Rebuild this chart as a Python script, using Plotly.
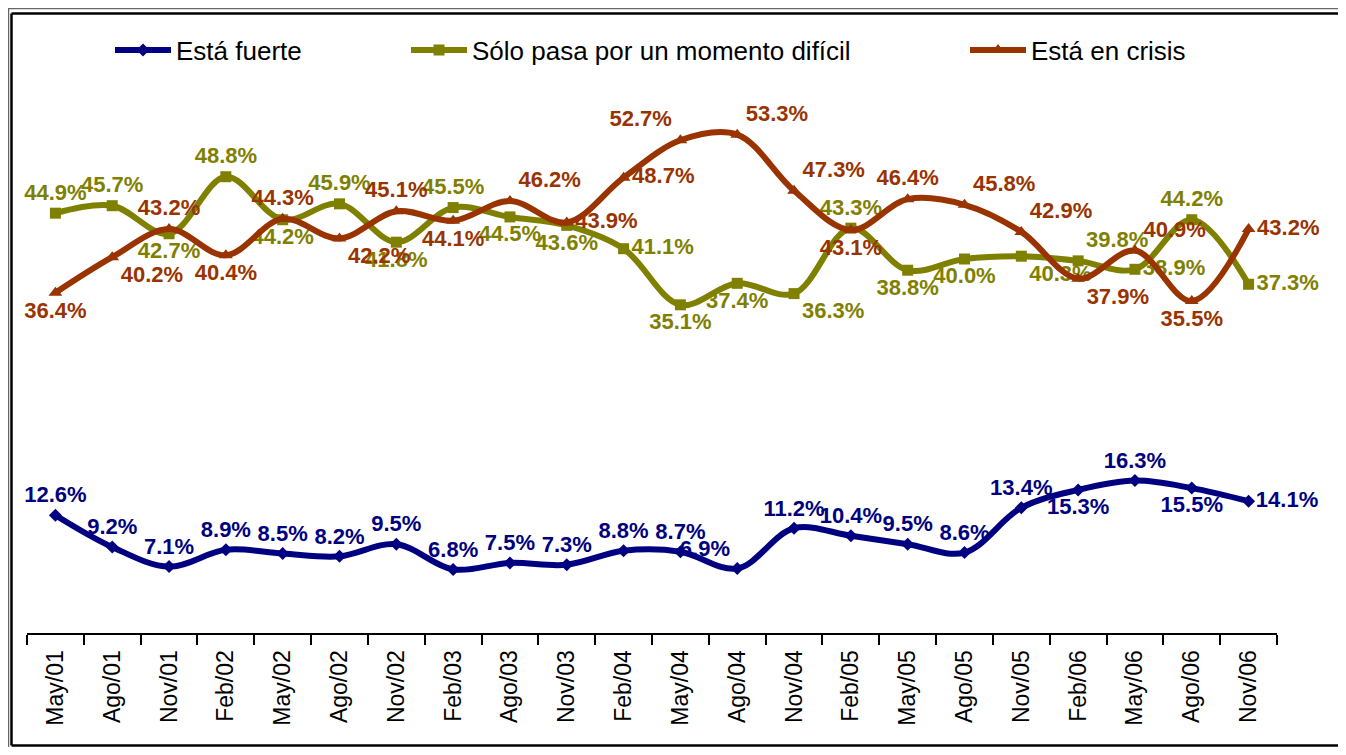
import plotly.graph_objects as go

categories = ["May/01", "Ago/01", "Nov/01", "Feb/02", "May/02", "Ago/02", "Nov/02",
              "Feb/03", "Ago/03", "Nov/03", "Feb/04", "May/04", "Ago/04", "Nov/04",
              "Feb/05", "May/05", "Ago/05", "Nov/05", "Feb/06", "May/06", "Ago/06", "Nov/06"]

esta_fuerte = [12.6, 9.2, 7.1, 8.9, 8.5, 8.2, 9.5, 6.8, 7.5, 7.3, 8.8, 8.7, 6.9, 11.2,
               10.4, 9.5, 8.6, 13.4, 15.3, 16.3, 15.5, 14.1]
solo_pasa = [44.9, 45.7, 42.7, 48.8, 44.2, 45.9, 41.8, 45.5, 44.5, 43.6, 41.1, 35.1, 37.4,
             36.3, 43.3, 38.8, 40.0, 40.3, 39.8, 38.9, 44.2, 37.3]
en_crisis = [36.4, 40.2, 43.2, 40.4, 44.3, 42.2, 45.1, 44.1, 46.2, 43.9, 48.7, 52.7, 53.3,
             47.3, 43.1, 46.4, 45.8, 42.9, 37.9, 40.9, 35.5, 43.2]

series_names = ["Está fuerte", "Sólo pasa por un momento difícil", "Está en crisis"]

# label placement styles
TC, BC, MR, TR, BR, TL = "top center", "bottom center", "middle right", "top right", "bottom right", "top left"
pos_fuerte = [TC, TC, TC, TC, TC, TC, TC, TC, TC, TC, TC, TC, TL, TC, TC, TC, TC, TC, BC, TC, BC, MR]
pos_solo = [TC, TC, BC, TC, BC, TC, BC, TC, BC, BC, MR, BC, BC, BR, TC, BC, BC, BR, TR, MR, TC, MR]
pos_crisis = [BC, BR, TC, BC, TC, BR, TC, BC, TR, MR, MR, TL, TR, TR, BC, TC, TR, TR, BR, TR, BC, MR]

colors = ["#000080", "#808000", "#993300"]
symbols = ["diamond", "square", "triangle-up"]
msizes = [10, 11, 12]
FONT = "Liberation Sans, Arial, sans-serif"

fig = go.Figure()
for i, (vals, pos) in enumerate([(esta_fuerte, pos_fuerte), (solo_pasa, pos_solo), (en_crisis, pos_crisis)]):
    fig.add_trace(go.Scatter(
        x=categories, y=vals, name=series_names[i],
        mode="lines+markers+text",
        line=dict(color=colors[i], width=6, shape="spline", smoothing=1),
        marker=dict(symbol=symbols[i], size=msizes[i], color=colors[i]),
        texttemplate="%{y:.1f}%", textposition=pos,
        textfont=dict(family=FONT, size=22, color=colors[i], weight="bold"),
        cliponaxis=False,
        legend=["legend", "legend2", "legend3"][i],
    ))

# figure is placed 8px inside the page (default body margin)
FW, FH = 1330, 739
L, T, W, H = 19, 64, 1250, 561


def px2x(px):
    return (px - L) / W


def py2y(py):
    return (T + H - py) / H


leg_common = dict(orientation="h", yanchor="middle", xanchor="left", itemwidth=56,
                  font=dict(family=FONT, size=26, color="black"),
                  bgcolor="rgba(0,0,0,0)", borderwidth=0)

# decorative double frame (top, left, bottom)
frame = [
    (0, 0.5, FW, 0.5, 1.5, "#666666"),
    (0.5, 0, 0.5, FH, 1.5, "#666666"),
    (3.5, 5.5, FW, 5.5, 2.5, "black"),
    (3.5, 5.5, 3.5, 737.5, 2.5, "black"),
    (3.5, 737.5, FW, 737.5, 2.5, "black"),
]
shapes = [dict(type="line", xref="paper", yref="paper",
               x0=px2x(a), x1=px2x(c), y0=py2y(b), y1=py2y(d),
               line=dict(color=col, width=w), layer="below")
          for (a, b, c, d, w, col) in frame]

fig.update_layout(
    width=FW, height=FH,
    margin=dict(l=L, r=FW - L - W, t=T, b=FH - T - H),
    paper_bgcolor="white", plot_bgcolor="white",
    font=dict(family=FONT, color="black"),
    showlegend=True,
    legend=dict(x=px2x(102), y=py2y(42), **leg_common),
    legend2=dict(x=px2x(398), y=py2y(42), **leg_common),
    legend3=dict(x=px2x(957), y=py2y(42), **leg_common),
    xaxis=dict(type="category", range=[-0.5, len(categories) - 0.5],
               tickson="boundaries", ticks="outside", ticklen=10, tickwidth=2, tickcolor="black",
               showline=True, linecolor="black", linewidth=2, showgrid=False, zeroline=False,
               tickangle=-90, ticklabelstandoff=6,
               tickfont=dict(family=FONT, size=23, color="black")),
    yaxis=dict(range=[0, 60], visible=False, showgrid=False, zeroline=False),
    shapes=shapes,
)

fig.write_html("out.html")
